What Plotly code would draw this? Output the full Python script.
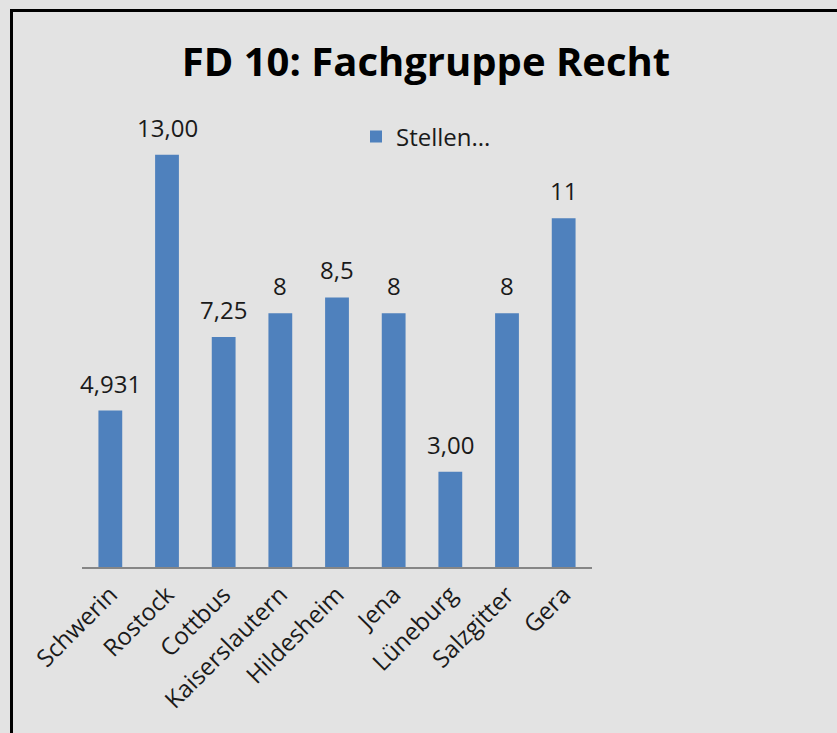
import plotly.graph_objects as go

categories = ["Schwerin", "Rostock", "Cottbus", "Kaiserslautern", "Hildesheim",
              "Jena", "Lüneburg", "Salzgitter", "Gera"]
values = [4.931, 13.00, 7.25, 8, 8.5, 8, 3.00, 8, 11]
value_labels = ["4,931", "13,00", "7,25", "8", "8,5", "8", "3,00", "8", "11"]
series_name = "Stellen..."
title_text = "FD 10: Fachgruppe Recht"

W, H = 837, 733
L, R, T, B = 82, 245, 123, 166
pw, ph = W - L - R, H - T - B

def px_x(x):
    return (x - L) / pw

def px_y(y):
    return (H - B - y) / ph

FONT = "Open Sans, Noto Sans, sans-serif"

fig = go.Figure()
fig.add_trace(go.Bar(
    x=categories, y=values, name=series_name,
    marker=dict(color="#4f81bd", line=dict(width=0)),
    cliponaxis=False,
    showlegend=True,
))

# value labels above the bars
for c, v, t in zip(categories, values, value_labels):
    fig.add_annotation(x=c, y=v, text=t, showarrow=False,
                       xanchor="center", yanchor="bottom", yshift=9,
                       font=dict(family=FONT, size=24, color="#1a1a1a"))

fig.update_layout(
    width=W, height=H,
    margin=dict(l=L, r=R, t=T, b=B, pad=0),
    paper_bgcolor="#e3e3e3", plot_bgcolor="#e3e3e3",
    bargap=0.58,
    title=dict(text=title_text, x=426 / W, xanchor="center",
               y=1 - 62 / H, yanchor="middle", yref="container",
               font=dict(family=FONT, size=40, color="#000000", weight="bold")),
    showlegend=True,
    legend=dict(x=px_x(356), y=px_y(137), xanchor="left", yanchor="middle",
                bgcolor="rgba(0,0,0,0)", font=dict(family=FONT, size=24, color="#1a1a1a"),
                itemwidth=30),
    xaxis=dict(type="category", range=[-0.5, len(categories) - 0.5],
               showgrid=False, zeroline=False,
               showline=True, linecolor="#868686", linewidth=2,
               ticks="", tickangle=-45, ticklabelstandoff=2,
               tickfont=dict(family=FONT, size=24, color="#1a1a1a")),
    yaxis=dict(range=[0, 14], visible=False, showgrid=False, zeroline=False),
)

# outer border (left and top edges of the chart frame)
fig.add_shape(type="line", xref="paper", yref="paper",
              x0=px_x(11.5), x1=px_x(11.5), y0=px_y(10.5), y1=px_y(760),
              line=dict(color="#000000", width=3))
fig.add_shape(type="line", xref="paper", yref="paper",
              x0=px_x(10), x1=px_x(860), y0=px_y(10.5), y1=px_y(10.5),
              line=dict(color="#000000", width=3))

fig.write_html("out.html", config={"displayModeBar": False},
               post_script="document.body.style.margin='0';document.body.style.background='#e3e3e3';document.body.style.overflow='hidden';")
